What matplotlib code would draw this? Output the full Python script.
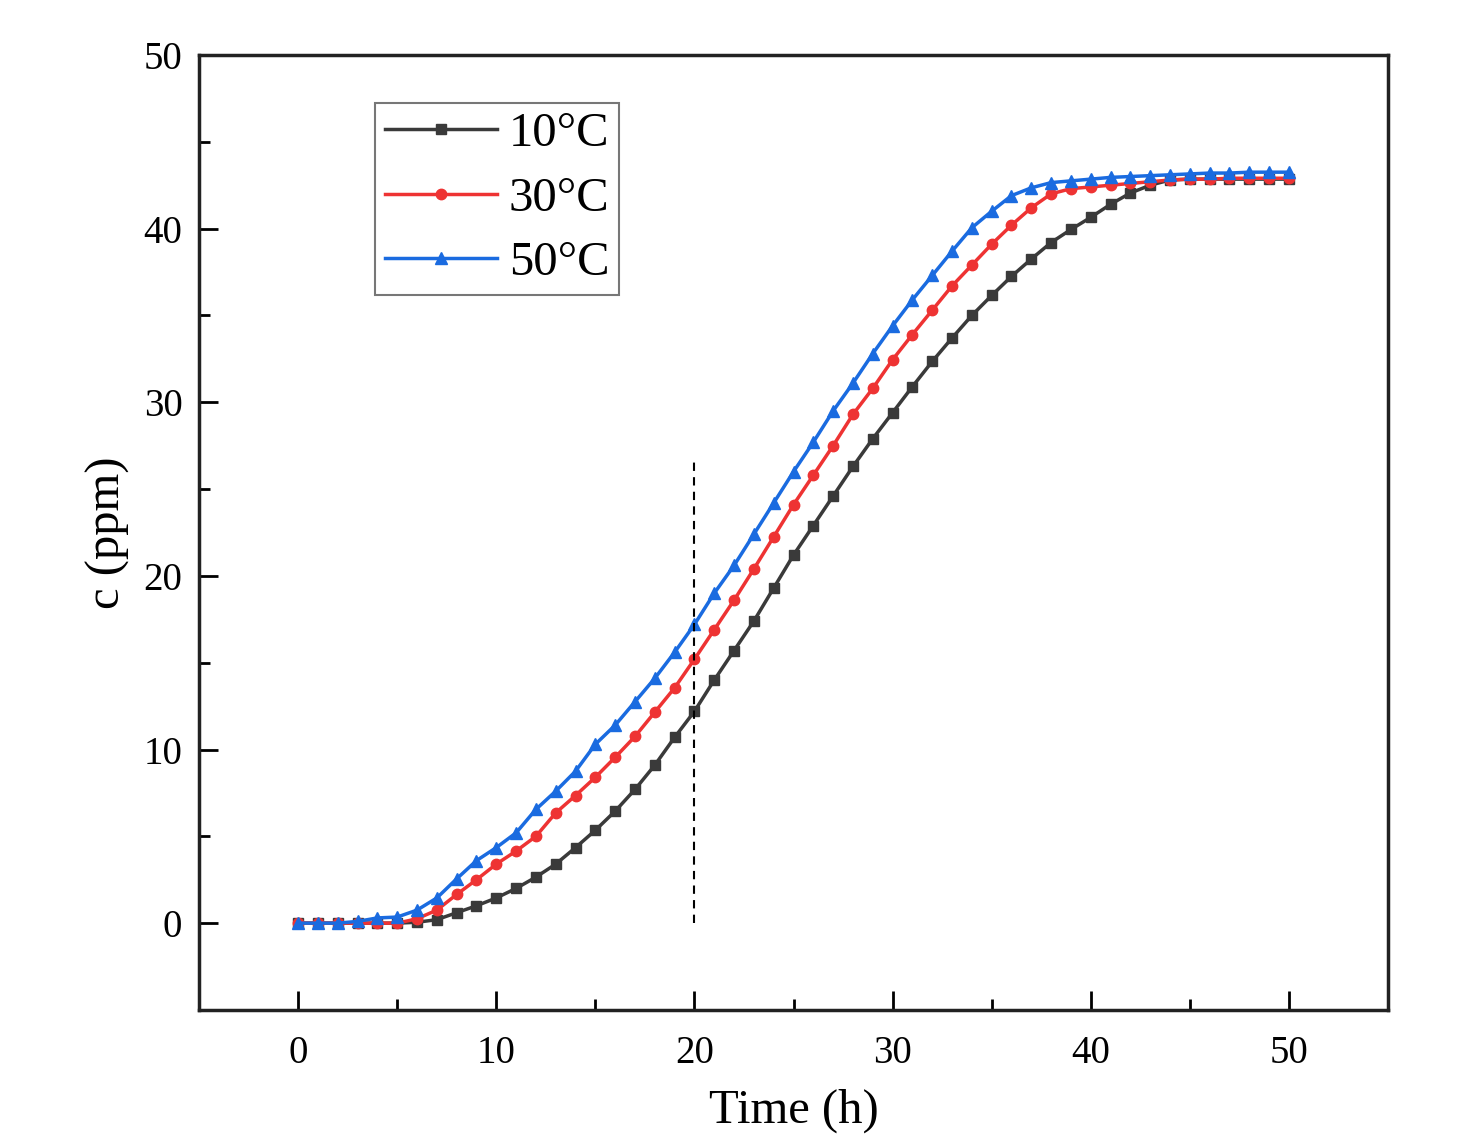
import matplotlib
matplotlib.use("Agg")
import matplotlib.pyplot as plt
from matplotlib.ticker import MultipleLocator

# time points (h)
time = list(range(0, 51))

# concentration c (ppm)
c_10 = [0, 0, 0, 0, 0, 0, 0.05, 0.2, 0.6, 1.0, 1.45, 2.0, 2.65, 3.4, 4.35, 5.35,
        6.45, 7.7, 9.1, 10.7, 12.2, 14.0, 15.7, 17.4, 19.3, 21.2, 22.9, 24.6,
        26.3, 27.9, 29.4, 30.9, 32.35, 33.7, 35.0, 36.15, 37.25, 38.25, 39.2,
        39.95, 40.65, 41.4, 42.05, 42.5, 42.8, 42.85, 42.85, 42.85, 42.85,
        42.85, 42.85]
c_30 = [0, 0, 0, 0, 0, 0, 0.25, 0.75, 1.65, 2.5, 3.4, 4.15, 5.0, 6.35, 7.35, 8.4,
        9.55, 10.75, 12.15, 13.55, 15.2, 16.9, 18.6, 20.4, 22.25, 24.1, 25.8,
        27.5, 29.3, 30.8, 32.45, 33.9, 35.3, 36.7, 37.9, 39.1, 40.2, 41.2, 42.0,
        42.3, 42.4, 42.5, 42.6, 42.7, 42.8, 42.85, 42.85, 42.9, 42.9, 42.9, 42.9]
c_50 = [0, 0, 0, 0.1, 0.3, 0.35, 0.75, 1.45, 2.55, 3.6, 4.35, 5.2, 6.55, 7.6, 8.75,
        10.3, 11.4, 12.75, 14.1, 15.6, 17.2, 19.0, 20.6, 22.4, 24.2, 26.0, 27.7,
        29.5, 31.1, 32.8, 34.4, 35.9, 37.3, 38.7, 40.05, 41.0, 41.9, 42.35, 42.65,
        42.75, 42.85, 42.95, 43.0, 43.05, 43.1, 43.15, 43.2, 43.2, 43.25, 43.25,
        43.25]
labels = ["10°C", "30°C", "50°C"]

# dashed marker line at t = 20 h
marker_t = 20
marker_top = 26.6

plt.rcParams["font.family"] = ["Liberation Serif", "DejaVu Serif"]

fig = plt.figure(figsize=(14.58, 11.43), dpi=100)
ax = fig.add_axes([0.1365, 0.1164, 0.8155, 0.8355])

ax.plot(time, c_10, color="#3a3a3a", lw=2.5, marker="s", ms=7.5, label=labels[0])
ax.plot(time, c_30, color="#ee3333", lw=2.5, marker="o", ms=7.5, label=labels[1])
ax.plot(time, c_50, color="#1a6be0", lw=2.5, marker="^", ms=8.5, label=labels[2])

ax.vlines(marker_t, 0, marker_top, colors="black", linestyles=(0, (4, 3)), lw=1.5)

ax.set_xlim(-5, 55)
ax.set_ylim(-5, 50)
ax.xaxis.set_minor_locator(MultipleLocator(5))
ax.yaxis.set_minor_locator(MultipleLocator(5))
ax.set_xticks([0, 10, 20, 30, 40, 50])
ax.set_yticks([0, 10, 20, 30, 40, 50])

ax.tick_params(which="major", direction="in", length=14, width=2, labelsize=28)
ax.tick_params(which="minor", direction="in", length=8, width=2)
ax.tick_params(axis="x", which="major", pad=18)
ax.tick_params(axis="y", which="major", pad=12)
for s in ax.spines.values():
    s.set_linewidth(2.5)
    s.set_color("#222222")

# label sits at the very bottom edge, as in the source figure
ax.set_xlabel("Time (h)", fontsize=35, labelpad=12)
ax.set_ylabel("c (ppm)", fontsize=35, labelpad=10)

leg = ax.legend(loc="upper left", bbox_to_anchor=(0.148, 0.95), fontsize=35,
                frameon=True, fancybox=False, edgecolor="#555555",
                handlelength=2.3, handletextpad=0.25, borderpad=0.2,
                labelspacing=0.42, borderaxespad=0)
leg.get_frame().set_linewidth(1.5)

fig.savefig("out.png", dpi=100)
